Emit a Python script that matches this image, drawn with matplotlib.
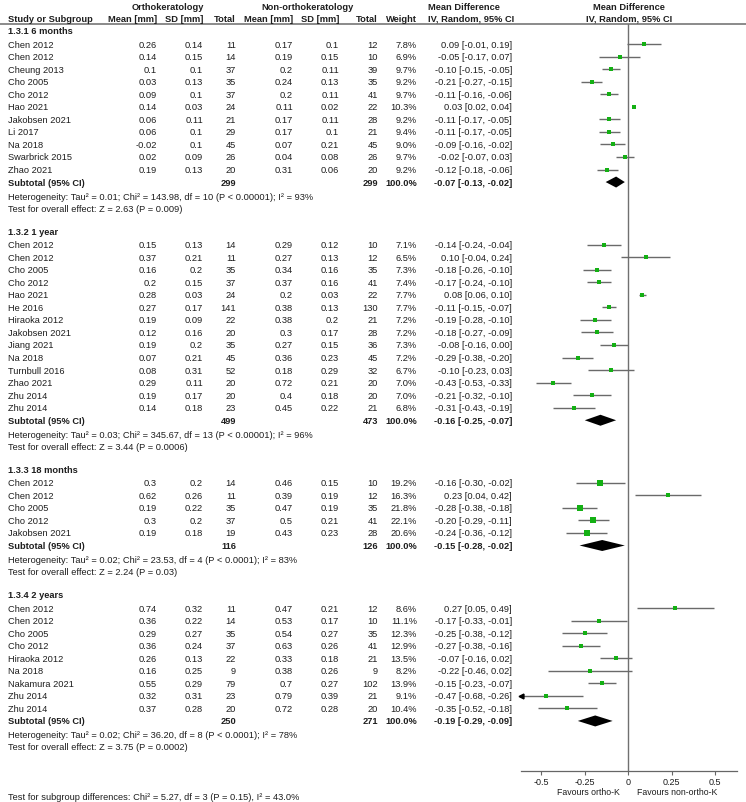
import numpy as np
import matplotlib.pyplot as plt

plt.rcParams['font.family'] = ['Liberation Sans', 'DejaVu Sans']
plt.rcParams['font.size'] = 6.7

groups = ['1.3.1 6 months', '1.3.2 1 year', '1.3.3 18 months', '1.3.4 2 years']
group_n = [11, 14, 5, 9]

study = ['Chen 2012', 'Chen 2012', 'Cheung 2013', 'Cho 2005', 'Cho 2012', 'Hao 2021',
         'Jakobsen 2021', 'Li 2017', 'Na 2018', 'Swarbrick 2015', 'Zhao 2021',
         'Chen 2012', 'Chen 2012', 'Cho 2005', 'Cho 2012', 'Hao 2021', 'He 2016',
         'Hiraoka 2012', 'Jakobsen 2021', 'Jiang 2021', 'Na 2018', 'Turnbull 2016',
         'Zhao 2021', 'Zhu 2014', 'Zhu 2014',
         'Chen 2012', 'Chen 2012', 'Cho 2005', 'Cho 2012', 'Jakobsen 2021',
         'Chen 2012', 'Chen 2012', 'Cho 2005', 'Cho 2012', 'Hiraoka 2012', 'Na 2018',
         'Nakamura 2021', 'Zhu 2014', 'Zhu 2014']

o_mean = [0.26, 0.14, 0.1, 0.03, 0.09, 0.14, 0.06, 0.06, -0.02, 0.02, 0.19,
          0.15, 0.37, 0.16, 0.2, 0.28, 0.27, 0.19, 0.12, 0.19, 0.07, 0.08, 0.29, 0.19, 0.14,
          0.3, 0.62, 0.19, 0.3, 0.19,
          0.74, 0.36, 0.29, 0.36, 0.26, 0.16, 0.55, 0.32, 0.37]
o_sd = [0.14, 0.15, 0.1, 0.13, 0.1, 0.03, 0.11, 0.1, 0.1, 0.09, 0.13,
        0.13, 0.21, 0.2, 0.15, 0.03, 0.17, 0.09, 0.16, 0.2, 0.21, 0.31, 0.11, 0.17, 0.18,
        0.2, 0.26, 0.22, 0.2, 0.18,
        0.32, 0.22, 0.27, 0.24, 0.13, 0.25, 0.29, 0.31, 0.28]
o_n = [11, 14, 37, 35, 37, 24, 21, 29, 45, 26, 20,
       14, 11, 35, 37, 24, 141, 22, 20, 35, 45, 52, 20, 20, 23,
       14, 11, 35, 37, 19,
       11, 14, 35, 37, 22, 9, 79, 23, 20]
c_mean = [0.17, 0.19, 0.2, 0.24, 0.2, 0.11, 0.17, 0.17, 0.07, 0.04, 0.31,
          0.29, 0.27, 0.34, 0.37, 0.2, 0.38, 0.38, 0.3, 0.27, 0.36, 0.18, 0.72, 0.4, 0.45,
          0.46, 0.39, 0.47, 0.5, 0.43,
          0.47, 0.53, 0.54, 0.63, 0.33, 0.38, 0.7, 0.79, 0.72]
c_sd = [0.1, 0.15, 0.11, 0.13, 0.11, 0.02, 0.11, 0.1, 0.21, 0.08, 0.06,
        0.12, 0.13, 0.16, 0.16, 0.03, 0.13, 0.2, 0.17, 0.15, 0.23, 0.29, 0.21, 0.18, 0.22,
        0.15, 0.19, 0.19, 0.21, 0.23,
        0.21, 0.17, 0.27, 0.26, 0.18, 0.26, 0.27, 0.39, 0.28]
c_n = [12, 10, 39, 35, 41, 22, 28, 21, 45, 26, 20,
       10, 12, 35, 41, 22, 130, 21, 28, 36, 45, 32, 20, 20, 21,
       10, 12, 35, 41, 28,
       12, 10, 35, 41, 21, 9, 102, 21, 20]
weight = [7.8, 6.9, 9.7, 9.2, 9.7, 10.3, 9.2, 9.4, 9.0, 9.7, 9.2,
          7.1, 6.5, 7.3, 7.4, 7.7, 7.7, 7.2, 7.2, 7.3, 7.2, 6.7, 7.0, 7.0, 6.8,
          19.2, 16.3, 21.8, 22.1, 20.6,
          8.6, 11.1, 12.3, 12.9, 13.5, 8.2, 13.9, 9.1, 10.4]
md = [0.09, -0.05, -0.10, -0.21, -0.11, 0.03, -0.11, -0.11, -0.09, -0.02, -0.12,
      -0.14, 0.10, -0.18, -0.17, 0.08, -0.11, -0.19, -0.18, -0.08, -0.29, -0.10, -0.43, -0.21, -0.31,
      -0.16, 0.23, -0.28, -0.20, -0.24,
      0.27, -0.17, -0.25, -0.27, -0.07, -0.22, -0.15, -0.47, -0.35]
lo = [-0.01, -0.17, -0.15, -0.27, -0.16, 0.02, -0.17, -0.17, -0.16, -0.07, -0.18,
      -0.24, -0.04, -0.26, -0.24, 0.06, -0.15, -0.28, -0.27, -0.16, -0.38, -0.23, -0.53, -0.32, -0.43,
      -0.30, 0.04, -0.38, -0.29, -0.36,
      0.05, -0.33, -0.38, -0.38, -0.16, -0.46, -0.23, -0.68, -0.52]
hi = [0.19, 0.07, -0.05, -0.15, -0.06, 0.04, -0.05, -0.05, -0.02, 0.03, -0.06,
      -0.04, 0.24, -0.10, -0.10, 0.10, -0.07, -0.10, -0.09, 0.00, -0.20, 0.03, -0.33, -0.10, -0.19,
      -0.02, 0.42, -0.18, -0.11, -0.12,
      0.49, -0.01, -0.12, -0.16, 0.02, 0.02, -0.07, -0.26, -0.18]

sub_o_n = [299, 499, 116, 250]
sub_c_n = [299, 473, 126, 271]
sub_md = [-0.07, -0.16, -0.15, -0.19]
sub_lo = [-0.13, -0.25, -0.28, -0.29]
sub_hi = [-0.02, -0.07, -0.02, -0.09]

hetero = ['Heterogeneity: Tau² = 0.01; Chi² = 143.98, df = 10 (P < 0.00001); I² = 93%',
          'Heterogeneity: Tau² = 0.03; Chi² = 345.67, df = 13 (P < 0.00001); I² = 96%',
          'Heterogeneity: Tau² = 0.02; Chi² = 23.53, df = 4 (P < 0.0001); I² = 83%',
          'Heterogeneity: Tau² = 0.02; Chi² = 36.20, df = 8 (P < 0.0001); I² = 78%']
overall = ['Test for overall effect: Z = 2.63 (P = 0.009)',
           'Test for overall effect: Z = 3.44 (P = 0.0006)',
           'Test for overall effect: Z = 2.24 (P = 0.03)',
           'Test for overall effect: Z = 3.75 (P = 0.0002)']
subgroup_test = 'Test for subgroup differences: Chi² = 5.27, df = 3 (P = 0.15), I² = 43.0%'

ticks = [-0.5, -0.25, 0, 0.25, 0.5]
tick_labels = ['-0.5', '-0.25', '0', '0.25', '0.5']

txt = '#1e1e1e'
green = '#14b014'
W, H = 746, 803
fig = plt.figure(figsize=(W / 100, H / 100), dpi=100)
ax = fig.add_axes([0, 0, 1, 1])
ax.set_xlim(0, W)
ax.set_ylim(H, 0)
ax.axis('off')

# forest panel, y in same pixel rows as the table
xmin, xmax = -0.618, 0.626
y_top, y_axis = 25, 772
fx = fig.add_axes([520.7 / W, 1 - y_axis / H, (737.3 - 520.7) / W, (y_axis - y_top) / H])
fx.set_xlim(xmin, xmax)
fx.set_ylim(y_axis, y_top)
fx.patch.set_alpha(0)
for s in ['top', 'right', 'left']:
    fx.spines[s].set_visible(False)
fx.spines['bottom'].set_color('#666666')
fx.spines['bottom'].set_linewidth(0.9)
fx.set_yticks([])
fx.set_xticks(ticks)
fx.set_xticklabels(tick_labels)
fx.tick_params(axis='x', direction='out', length=3, width=0.8, color='#666666',
               labelsize=6.5, labelcolor=txt, pad=1)
fx.axvline(0, color='#707070', lw=1.0)

# header
ax.plot([0, W], [25, 25], color='#777777', lw=1.2)
ax.text(168, 7, 'Orthokeratology', ha='center', va='center', color=txt, fontweight='bold')
ax.text(307, 7, 'Non-orthokeratology', ha='center', va='center', color=txt, fontweight='bold')
ax.text(8, 19, 'Study or Subgroup', va='center', color=txt, fontweight='bold')
col_x = [157, 203, 236, 293, 339, 378, 417, 512]
heads = ['Mean [mm]', 'SD [mm]', 'Total', 'Mean [mm]', 'SD [mm]', 'Total', 'Weight']
for x, h in zip(col_x, heads):
    ax.text(x, 19, h, ha='right', va='center', color=txt, fontweight='bold')
ax.text(428, 7, 'Mean Difference', va='center', color=txt, fontweight='bold')
ax.text(428, 19, 'IV, Random, 95% CI', va='center', color=txt, fontweight='bold')
ax.text(629, 7, 'Mean Difference', ha='center', va='center', color=txt, fontweight='bold')
ax.text(629, 19, 'IV, Random, 95% CI', ha='center', va='center', color=txt, fontweight='bold')

y = 32
i = 0
for g in range(4):
    ax.text(8, y, groups[g], va='center', color=txt, fontweight='bold')
    y += 13
    for k in range(group_n[g]):
        vals = [f'{o_mean[i]:g}', f'{o_sd[i]:g}', str(o_n[i]),
                f'{c_mean[i]:g}', f'{c_sd[i]:g}', str(c_n[i]),
                f'{weight[i]:.1f}%', f'{md[i]:.2f} [{lo[i]:.2f}, {hi[i]:.2f}]']
        vals = [v.replace('-0.00', '0.00') for v in vals]
        ax.text(8, y, study[i], va='center', color=txt)
        for x, v in zip(col_x, vals):
            ax.text(x, y, v, ha='right', va='center', color=txt)
        left = max(lo[i], xmin)
        fx.plot([left, hi[i]], [y, y], color='#6a6a6a', lw=1.0, solid_capstyle='butt')
        if lo[i] < xmin:
            fx.plot(xmin, y, marker='<', ms=3.5, color='black', clip_on=False)
        fx.scatter(md[i], y, marker='s', s=0.75 * weight[i], color=green,
                   linewidths=0, zorder=3)
        y += 12.55
        i += 1
    sub_vals = [str(sub_o_n[g]), str(sub_c_n[g]), '100.0%',
                f'{sub_md[g]:.2f} [{sub_lo[g]:.2f}, {sub_hi[g]:.2f}]']
    ax.text(8, y, 'Subtotal (95% CI)', va='center', color=txt, fontweight='bold')
    for x, v in zip([col_x[2], col_x[5], col_x[6], col_x[7]], sub_vals):
        ax.text(x, y, v, ha='right', va='center', color=txt, fontweight='bold')
    fx.fill([sub_lo[g], sub_md[g], sub_hi[g], sub_md[g]], [y, y - 5.5, y, y + 5.5],
            color='black', lw=0)
    y += 14
    ax.text(8, y, hetero[g], va='center', color=txt)
    y += 12
    ax.text(8, y, overall[g], va='center', color=txt)
    y += 23.5

ax.text(588, 793, 'Favours ortho-K', ha='center', va='center', color=txt, fontsize=6.3)
ax.text(677, 793, 'Favours non-ortho-K', ha='center', va='center', color=txt, fontsize=6.3)
ax.text(8, 798, subgroup_test, va='center', color=txt)

fig.savefig('out.png', dpi=100)
